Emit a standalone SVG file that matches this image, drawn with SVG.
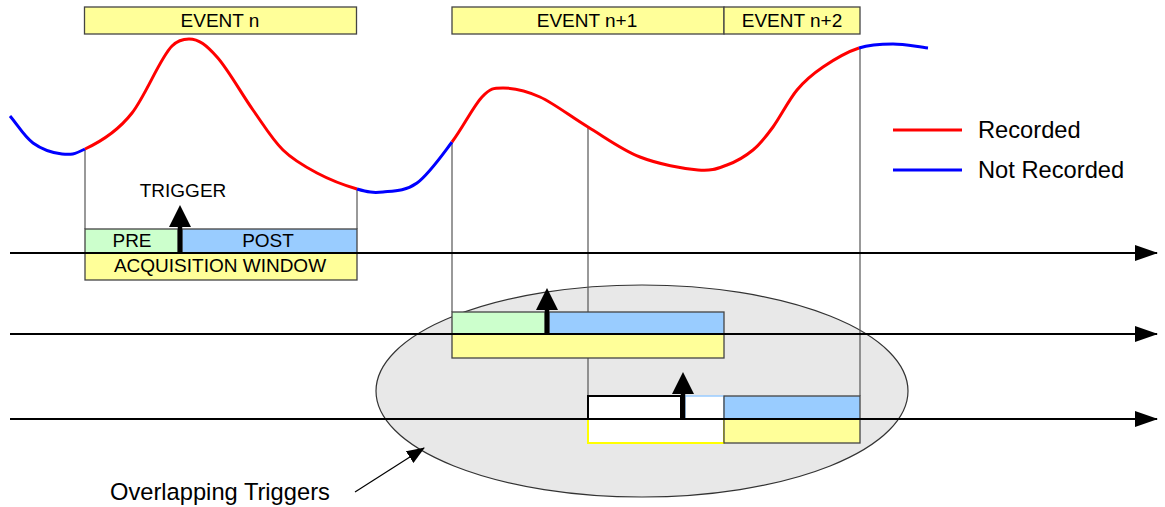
<svg xmlns="http://www.w3.org/2000/svg" width="1165" height="507" viewBox="0 0 1165 507">
<style>
text{font-family:"Liberation Sans",Arial,sans-serif;fill:#000}
.t19{font-size:19px;text-anchor:middle}
.t23{font-size:23.7px}
.box{stroke:#444;stroke-width:1.3}
.y{fill:#FFFF99}.g{fill:#CCFFCC}.b{fill:#99CCFF}
.vl{stroke:#555;stroke-width:1.2;fill:none}
.ax{stroke:#000;stroke-width:2;fill:none}
.red{stroke:#FF0000;stroke-width:3;fill:none}
.blue{stroke:#0000FF;stroke-width:3;fill:none}
.trig{stroke:#000;stroke-width:4.5}
</style>
<defs>
<marker id="ah" markerWidth="24" markerHeight="16" refX="22" refY="8" orient="auto" markerUnits="userSpaceOnUse"><path d="M0,0 L23,8 L0,16 Z" fill="#000"/></marker>
<marker id="ps" markerWidth="18" markerHeight="14" refX="17" refY="7" orient="auto" markerUnits="userSpaceOnUse"><path d="M0,0 L18,7 L0,14 Z" fill="#000"/></marker>
<path id="tr" d="M-11,22 L0,0 L11,22 Z" fill="#000"/>
</defs>
<g id="overlap-ellipse"><ellipse cx="642" cy="391" rx="266" ry="106" fill="#E8E8E8" stroke="#333" stroke-width="1.2"/></g>
<g id="connectors">
<line class="vl" x1="85" y1="149" x2="85" y2="229"/>
<line class="vl" x1="357" y1="189" x2="357" y2="229"/>
<line class="vl" x1="452" y1="142" x2="452" y2="312"/>
<line class="vl" x1="588" y1="127" x2="588" y2="396"/>
<line class="vl" x1="860" y1="48" x2="860" y2="396"/>
<line x1="355" y1="492" x2="424" y2="448" stroke="#000" stroke-width="1.2" marker-end="url(#ps)"/>
</g>
<g id="signal">
<path class="blue" d="M10,116 C17.7,125 24.3,136.7 33,143 C41.7,149.3 53.3,153 62,154 C70.7,155 74.2,154.5 85,149"/>
<path class="red" d="M85,149 C100,142 118,131 132,113 C146,95 160,58 172,46 C178,40 183,39 189,39 C199,39 206.3,45.2 217,57 C227.7,68.8 242,94.5 253,110 C264,125.5 272.3,139.5 283,150 C293.7,160.5 304.7,166.5 317,173 C329.3,179.5 346,185.8 357,189"/>
<path class="blue" d="M357,189 C368,192.2 373,193 383,192 C393,191 405.5,191.3 417,183 C428.5,174.7 441.2,156.3 452,142"/>
<path class="red" d="M452,142 C462.8,127.7 473.5,106 482,97 C490.5,88 493.3,88 503,88 C512.7,88 525.8,90.5 540,97 C554.2,103.5 571.3,117 588,127 C604.7,137 621.7,149.8 640,157 C658.3,164.2 683.5,168.7 698,170 C712.5,171.3 717.8,168.3 727,165 C736.2,161.7 745.3,156.3 753,150 C760.7,143.7 765.7,137 773,127 C780.3,117 788.7,100 797,90 C805.3,80 812.7,74 823,67 C833.3,60 847.3,51.8 859,48"/>
<path class="blue" d="M859,48 C870.7,44.2 881.5,44 893,44 C904.5,44 916.3,46.7 928,48"/>
</g>
<g id="event-n"><rect class="box y" x="84.5" y="7" width="272" height="27"/><text class="t19" x="220" y="27">EVENT n</text></g>
<g id="event-n1"><rect class="box y" x="452" y="7" width="272" height="27"/><text class="t19" x="587" y="27">EVENT n+1</text></g>
<g id="event-n2"><rect class="box y" x="724" y="7" width="136" height="27"/><text class="t19" x="792" y="27">EVENT n+2</text></g>
<g id="legend">
<line x1="893" y1="130" x2="962" y2="130" stroke="#FF0000" stroke-width="3"/>
<text class="t23" x="978" y="138">Recorded</text>
<line x1="893" y1="170" x2="962" y2="170" stroke="#0000FF" stroke-width="3"/>
<text class="t23" x="978" y="178">Not Recorded</text>
</g>
<g id="window-1">
<rect class="box g" x="85" y="229" width="93" height="24"/>
<rect class="box b" x="182" y="229" width="175" height="24"/>
<rect class="box y" x="85" y="253" width="272" height="27"/>
<text class="t19" x="132" y="247">PRE</text>
<text class="t19" x="268" y="247">POST</text>
<text class="t19" x="220" y="272">ACQUISITION WINDOW</text>
<line class="trig" x1="180" y1="253" x2="180" y2="224"/>
<use href="#tr" x="180" y="205"/>
<text class="t19" x="183" y="197">TRIGGER</text>
</g>
<g id="window-2">
<rect class="box g" x="452" y="312" width="93" height="22"/>
<rect class="box b" x="549" y="312" width="175" height="22"/>
<rect class="box y" x="452" y="334" width="272" height="24"/>
<line class="trig" x1="547" y1="334" x2="547" y2="306"/>
<use href="#tr" x="547" y="288"/>
</g>
<g id="window-3">
<rect x="588" y="419" width="136" height="24" fill="#fff" stroke="#FFFF00" stroke-width="2"/>
<rect class="box y" x="724" y="419" width="136" height="24"/>
<rect x="685" y="396" width="39" height="23" fill="#fff" stroke="#99CCFF" stroke-width="1.5"/>
<rect class="box b" x="724" y="396" width="136" height="23"/>
<rect x="588" y="396" width="93" height="23" fill="#fff" stroke="#000" stroke-width="2"/>
<line class="trig" x1="683" y1="419" x2="683" y2="391"/>
<use href="#tr" x="683" y="372"/>
</g>
<g id="axes">
<line class="ax" x1="10" y1="253" x2="1157" y2="253" marker-end="url(#ah)"/>
<line class="ax" x1="10" y1="334" x2="1157" y2="334" marker-end="url(#ah)"/>
<line class="ax" x1="10" y1="419" x2="1157" y2="419" marker-end="url(#ah)"/>
</g>
<g id="label"><text class="t23" x="110" y="500">Overlapping Triggers</text></g>
</svg>
